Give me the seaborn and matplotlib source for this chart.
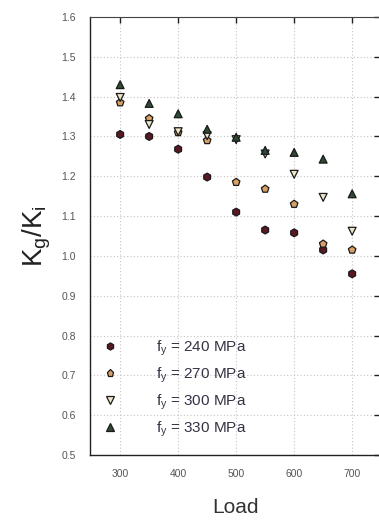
import matplotlib
matplotlib.use("Agg")
import matplotlib.pyplot as plt
import seaborn as sns
import pandas as pd

loads = [300, 350, 400, 450, 500, 550, 600, 650, 700]
fy_labels = [r"$\mathregular{f_y}$ = 240 MPa", r"$\mathregular{f_y}$ = 270 MPa",
             r"$\mathregular{f_y}$ = 300 MPa", r"$\mathregular{f_y}$ = 330 MPa"]
ratio_240 = [1.305, 1.300, 1.268, 1.198, 1.110, 1.065, 1.058, 1.015, 0.955]
ratio_270 = [1.385, 1.345, 1.310, 1.290, 1.185, 1.168, 1.130, 1.030, 1.015]
ratio_300 = [1.398, 1.330, 1.312, 1.302, 1.292, 1.256, 1.205, 1.147, 1.062]
ratio_330 = [1.430, 1.383, 1.357, 1.318, 1.298, 1.265, 1.260, 1.243, 1.156]
x_ticks = [300, 400, 500, 600, 700]
y_ticks = [0.5, 0.6, 0.7, 0.8, 0.9, 1.0, 1.1, 1.2, 1.3, 1.4, 1.5, 1.6]

rows = []
for lab, vals in zip(fy_labels, [ratio_240, ratio_270, ratio_300, ratio_330]):
    for x, v in zip(loads, vals):
        rows.append({"Load": x, "ratio": v, "series": lab})
df = pd.DataFrame(rows)

sns.set_style("white")
plt.rcParams["font.family"] = ["Liberation Sans", "DejaVu Sans"]
plt.rcParams["mathtext.fontset"] = "custom"
plt.rcParams["mathtext.rm"] = "Liberation Sans"

fig = plt.figure(figsize=(3.79, 5.21), dpi=100)
ax = fig.add_axes([90 / 379, 66 / 521, 290 / 379, 438 / 521])

palette = {fy_labels[0]: "#5a1822", fy_labels[1]: "#d9a066",
           fy_labels[2]: "#efe6c8", fy_labels[3]: "#2e4a34"}
markers = {fy_labels[0]: "h", fy_labels[1]: "p", fy_labels[2]: "v", fy_labels[3]: "^"}

sns.scatterplot(data=df, x="Load", y="ratio", hue="series", style="series",
                palette=palette, markers=markers, s=32, edgecolor="#1a1a1a",
                linewidth=0.9, ax=ax, zorder=3)

ax.set_xlim(248, 748)
ax.set_ylim(0.5, 1.6)
ax.set_xticks(x_ticks)
ax.set_yticks(y_ticks)
ax.set_xticklabels([str(t) for t in x_ticks])
ax.set_yticklabels([f"{t:.1f}" for t in y_ticks])
ax.grid(True, linestyle=(0, (1, 2)), color="#c4c4c4", linewidth=0.8)
ax.tick_params(direction="in", length=4, width=1, colors="#222222",
               labelcolor="#555555", labelsize=7.5, top=True, right=True)
ax.tick_params(axis="y", pad=10)
ax.tick_params(axis="x", pad=10)
for side in ["left", "bottom"]:
    ax.spines[side].set_color("#222222")
    ax.spines[side].set_linewidth(1.0)
ax.spines["top"].set_linestyle((0, (1, 1)))
ax.spines["top"].set_color("#444444")
ax.spines["right"].set_visible(False)

ax.set_xlabel("Load", fontsize=15, color="#333333", labelpad=14)
ax.set_ylabel(r"K$_\mathregular{g}$/K$_\mathregular{i}$", fontsize=20,
              color="#222222", labelpad=6)

leg = ax.legend(loc="lower left", frameon=False, fontsize=11, markerscale=0.9,
                handletextpad=2.0, labelspacing=0.5, borderaxespad=0.3,
                bbox_to_anchor=(-0.02, 0.012))
for t in leg.get_texts():
    t.set_color("#333344")

fig.savefig("out.png", dpi=100)
